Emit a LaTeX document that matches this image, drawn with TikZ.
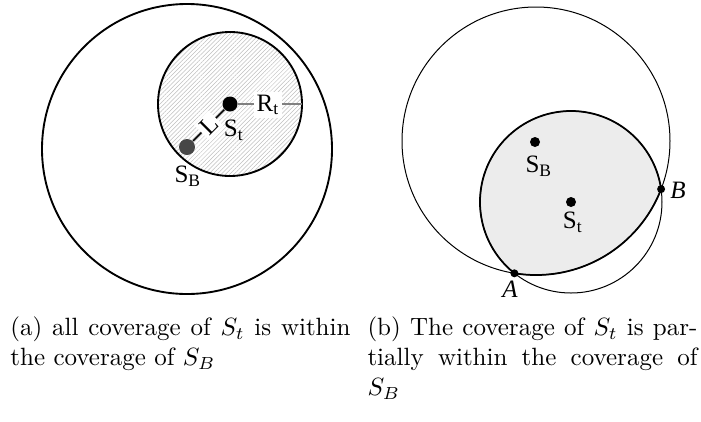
\documentclass[tikz,border=0pt]{standalone}
\usepackage{fontspec}
\usepackage{tikz}
\usetikzlibrary{positioning}
\usetikzlibrary{calc}
\usetikzlibrary{patterns.meta}
\newfontfamily\figfont{Liberation Serif}
\definecolor{hatchgray}{RGB}{190,190,190}
\definecolor{lensgray}{RGB}{236,236,236}

\begin{document}
\begin{tikzpicture}[
        x=0.4pt, y=-0.4pt,
        dot/.style={circle, fill=black, inner sep=0pt, minimum size=#1},
        dot/.default=6pt,
        lbl/.style={font=\figfont\fontsize{10}{11}\selectfont, inner sep=1pt},
        ptlbl/.style={font=\figfont\itshape\fontsize{10}{11}\selectfont, inner sep=1pt},
        captext/.style={anchor=north west, align=justify, inner sep=0pt, font=\normalsize}
    ]
    \useasboundingbox (0,0) rectangle (701,421);

    \draw[line width=0.75pt] (187,149) circle[radius=145];
    \draw[line width=0.75pt, pattern={Lines[angle=45, distance=1.2pt, line width=0.2pt]},
          pattern color=hatchgray] (230,104) circle[radius=72];
    \node[dot] (st) at (230,104) {};
    \node[dot=6.4pt, fill=black!72] (sb) at (187,147) {};
    \coordinate (edge) at (302,104);
    \draw[line width=0.8pt, gray] (st) -- (edge);
    \node[lbl, fill=white] (rt) at (268,105) {R\textsubscript{t}};
    \draw[line width=0.6pt] (st) -- (sb) node[lbl, midway, fill=white, rotate=45] (len) {L};
    \node[lbl] (stlab) at (234,130) {S\textsubscript{t}};
    \node[lbl] (sblab) at (188,176) {S\textsubscript{B}};

    \begin{scope}
        \clip (536,141) circle[radius=134];
        \fill[lensgray] (571,202) circle[radius=91];
    \end{scope}
    \draw[line width=0.4pt] (536,141) circle[radius=134];
    \draw[line width=0.4pt] (571,202) circle[radius=91];
    \begin{scope}
        \clip (536,141) circle[radius=134];
        \draw[line width=0.7pt] (571,202) circle[radius=91];
    \end{scope}
    \begin{scope}
        \clip (571,202) circle[radius=91];
        \draw[line width=0.7pt] (536,141) circle[radius=134];
    \end{scope}
    \node[dot=4pt] (sbr) at (535,142) {};
    \node[dot=4pt] (str) at (571,202) {};
    \node[dot=3.2pt] (pa) at (514.4,273.3) {};
    \node[dot=3.2pt] (pb) at (661.1,189.1) {};
    \node[lbl] (sbrlab) at (539,166) {S\textsubscript{B}};
    \node[lbl] (strlab) at (573,222) {S\textsubscript{t}};
    \node[ptlbl] (palab) at (510,289) {A};
    \node[ptlbl] (pblab) at (678,190) {B};

    \node[captext, text width=136pt] (capa) at (10,316)
        {(a) all coverage of $S_t$ is within\linebreak the coverage of $S_B$};
    \node[captext, text width=132pt] (capb) at (367,316)
        {(b) The coverage of $S_t$ is par-\linebreak tially within the coverage of\linebreak $S_B$};
\end{tikzpicture}
\end{document}
